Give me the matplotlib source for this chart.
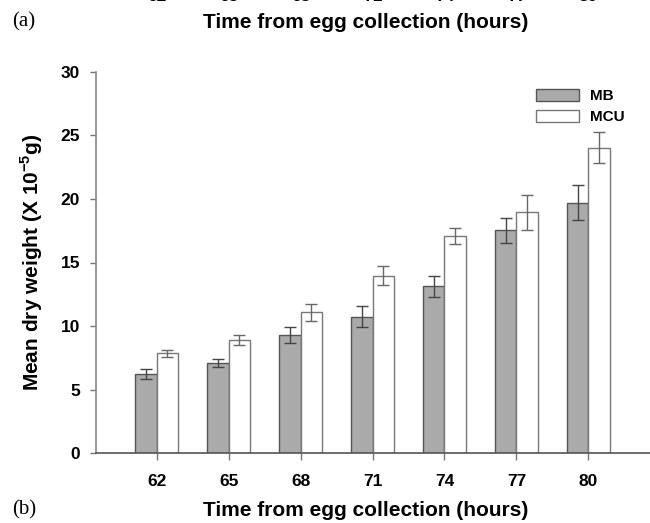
import matplotlib
matplotlib.use("Agg")
import matplotlib.pyplot as plt
import matplotlib.transforms as mtransforms
import numpy as np

hours = [62, 65, 68, 71, 74, 77, 80]
mb = [6.23, 7.12, 9.29, 10.73, 13.12, 17.54, 19.69]
mb_err = [0.38, 0.30, 0.60, 0.82, 0.80, 0.97, 1.37]
mcu = [7.86, 8.92, 11.08, 13.95, 17.09, 18.95, 24.04]
mcu_err = [0.26, 0.38, 0.65, 0.74, 0.60, 1.36, 1.23]
yticks = [0, 5, 10, 15, 20, 25, 30]
xlabel = "Time from egg collection (hours)"
ylabel = r"Mean dry weight (X 10$^{\mathbf{-5}}$g)"

plt.rcParams['font.family'] = ['Liberation Sans', 'DejaVu Sans']
plt.rcParams['mathtext.fontset'] = 'custom'
plt.rcParams['mathtext.rm'] = 'Liberation Sans:bold'
plt.rcParams['mathtext.bf'] = 'Liberation Sans:bold'

fig = plt.figure(figsize=(6.5, 5.23), dpi=100)
ax = fig.add_axes([96/650, 1 - 453.3/523, 1 - 96/650, (453.3 - 71.7)/523])

bw = 0.9
edge = '#555555'
x = np.array(hours, dtype=float)
ax.bar(x - bw/2, mb, width=bw, color='#aaaaaa', edgecolor=edge, linewidth=1.0, label='MB', zorder=2)
ax.bar(x + bw/2, mcu, width=bw, color='white', edgecolor='#777777', linewidth=1.0, label='MCU', zorder=2)
ax.errorbar(x - bw/2, mb, yerr=mb_err, fmt='none', ecolor='#444444', elinewidth=1.0, capsize=4.5, capthick=1.0, zorder=3)
ax.errorbar(x + bw/2, mcu, yerr=mcu_err, fmt='none', ecolor='#666666', elinewidth=1.0, capsize=4.5, capthick=1.0, zorder=3)

ax.set_xlim(62 - (156.7 - 96)/24, 80 + (650 - 588.3)/24)
ax.set_ylim(0, 30)
ax.set_yticks(yticks)
ax.set_xticks(hours)
ax.set_xticklabels([str(h) for h in hours], fontweight='bold', fontsize=12.5)
ax.set_yticklabels([str(v) for v in yticks], fontweight='bold', fontsize=12.5)
ax.tick_params(axis='x', direction='out', length=5, width=1, color='#777777', pad=10)
ax.tick_params(axis='y', direction='out', length=4, width=1, color='#777777', pad=7.5)
for s in ['top', 'right']:
    ax.spines[s].set_visible(False)
ax.spines['left'].set_color('#888888')
ax.spines['bottom'].set_color('#555555')
ax.spines['left'].set_linewidth(1.2)
ax.spines['bottom'].set_linewidth(1.2)
ax.set_ylabel(ylabel, fontweight='bold', fontsize=15, labelpad=11)

leg = ax.legend(loc='upper left', bbox_to_anchor=(0.77, 0.99), frameon=False,
                prop={'weight': 'bold', 'size': 11}, handlelength=2.8, handleheight=0.8,
                handletextpad=0.7, labelspacing=0.45)

# bottom caption
fig.text(366/650, 1 - 510/523, xlabel, ha='center', va='center', fontweight='bold', fontsize=15)
fig.text(12/650, 1 - 510/523, "(b)", ha='left', va='center', fontsize=15, family=['Liberation Serif'])
# top caption (from panel above)
fig.text(366/650, 1 - 22/523, xlabel, ha='center', va='center', fontweight='bold', fontsize=15)
fig.text(12/650, 1 - 22/523, "(a)", ha='left', va='center', fontsize=15, family=['Liberation Serif'])
trans = mtransforms.blended_transform_factory(ax.transData, fig.transFigure)
for h in hours:
    fig.text(h, 1 - 4/523, str(h), transform=trans, ha='center', va='bottom', fontweight='bold', fontsize=12.5)

fig.savefig("out.png", dpi=100)
